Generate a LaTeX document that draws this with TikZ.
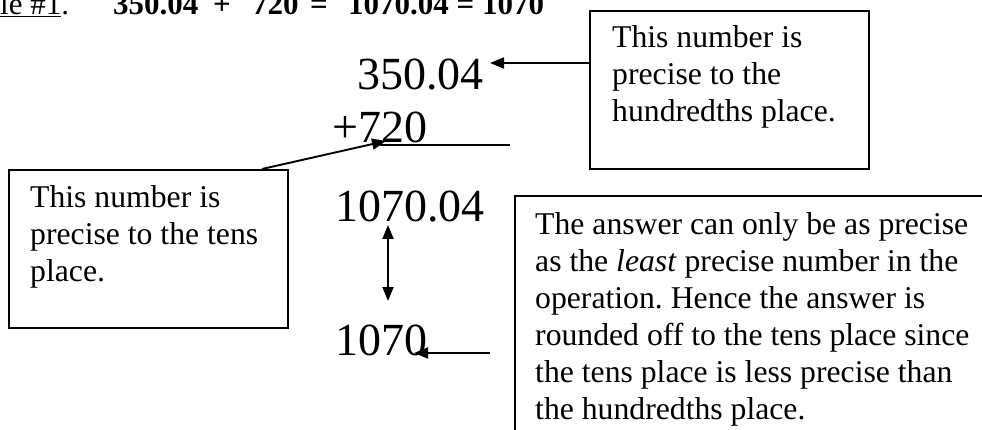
\documentclass[tikz,border=0pt]{standalone}
\usepackage{fontspec}
\setmainfont{Liberation Serif}
\usetikzlibrary{arrows.meta}
\newcommand\mylines[1]{\begin{tabular}[t]{@{}l@{}}#1\end{tabular}}
\frenchspacing
\begin{document}
\begin{tikzpicture}[x=1pt,y=-1pt,
  body/.style={font=\fontsize{31.7}{37}\selectfont, inner sep=0pt, anchor=base west},
  big/.style={font=\fontsize{46}{50}\selectfont, inner sep=0pt, anchor=base west},
  ttl/.style={font=\fontsize{31}{36}\selectfont\bfseries, inner sep=0pt, anchor=base west},
  ttlr/.style={font=\fontsize{31}{36}\selectfont, inner sep=0pt, anchor=base west},
  frame/.style={draw, line width=1.6pt, inner sep=0pt, anchor=north west},
  conn/.style={line width=1.9pt, -{Triangle[length=14pt,width=11pt]}},
  dconn/.style={line width=1.9pt, {Triangle[length=14pt,width=11pt]}-{Triangle[length=14pt,width=11pt]}},
  rule/.style={line width=1.9pt},
]
\clip (0,0) rectangle (982,430);
% title line
\node[ttlr] (tex) at (0,15) {\underline{le \#1}.};
\node[ttl] (t1) at (113,15) {350.04};
\node[ttl] (t2) at (213,15) {+};
\node[ttl] (t3) at (252,15) {720};
\node[ttl] (t4) at (310,15) {=};
\node[ttl] (t5) at (348,15) {1070.04 = 1070};
% big numbers
\node[big] (n350) at (357,90) {350.04};
\node[big] (n720) at (332,143) {+720};
\node[big] (n107004) at (335,222) {1070.04};
\node[big] (n1070) at (335,355) {1070};
\coordinate (ul1) at (380,145);
\coordinate (ul2) at (510,145);
\draw[rule] (ul1) -- (ul2);
% boxes
\node[frame, minimum width=279pt, minimum height=158pt] (lbox) at (8,169) {};
\node[body] (ltext) at (30,208) {\mylines{This number is\\precise to the tens\\place.}};
\node[frame, minimum width=279pt, minimum height=158pt] (rbox) at (589,10) {};
\node[body] (rtext) at (612,48) {\mylines{This number is\\precise to the\\hundredths place.}};
\node[frame, minimum width=520pt, minimum height=300pt] (bbox) at (514,195) {};
\node[body] (btext) at (535,235) {\mylines{The answer can only be as precise\\as the \textit{least} precise number in the\\operation. Hence the answer is\\rounded off to the tens place since\\the tens place is less precise than\\the hundredths place.}};
% connectors
\coordinate (a350) at (490,63);
\draw[conn] (rbox.west |- a350) -- (a350);
\coordinate (lstart) at (262,169);
\coordinate (a720) at (386,141);
\draw[conn] (lstart) -- (a720);
\coordinate (d1) at (388,225);
\coordinate (d2) at (388,301);
\draw[dconn] (d1) -- (d2);
\coordinate (e1) at (490,353);
\coordinate (e2) at (414,353);
\draw[conn] (e1) -- (e2);
\end{tikzpicture}
\end{document}
